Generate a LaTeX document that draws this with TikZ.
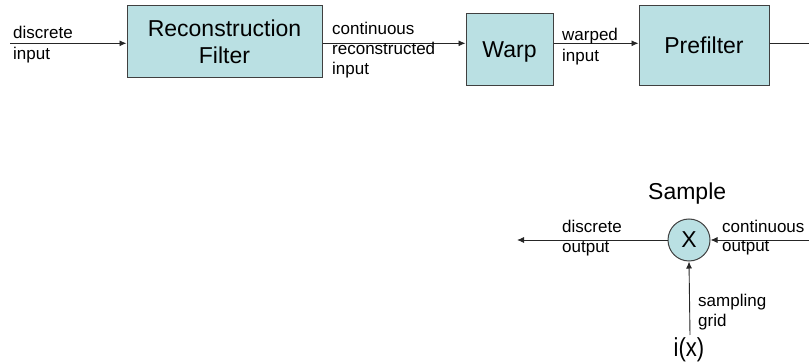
\documentclass[tikz,border=0pt]{standalone}
\usepackage{fontspec}
\setmainfont{Liberation Sans}
\usetikzlibrary{arrows.meta}
\definecolor{boxfill}{RGB}{186,224,227}
\definecolor{boxline}{RGB}{64,64,64}
\newcommand\smalllab{\fontsize{17}{19}\selectfont}
\newcommand\biglab{\fontsize{23}{27}\selectfont}
\tikzset{
  blockbox/.style={draw=boxline, fill=boxfill, line width=1pt, inner sep=0pt, align=center, font=\biglab},
  arr/.style={draw=black!85, line width=0.9pt, -{Latex[length=7pt,width=6pt]}},
  plain/.style={draw=black!85, line width=0.9pt},
  lab/.style={anchor=base west, inner sep=0pt, font=\smalllab},
}
\begin{document}
\begin{tikzpicture}[x=1pt,y=-1pt]
\useasboundingbox (0,0) rectangle (809,363);
% boxes
\node[blockbox, minimum width=195pt, minimum height=72pt] (recon) at (224.5,42) {Reconstruction\\Filter};
\node[blockbox, minimum width=87pt, minimum height=72pt, text height=16pt, text depth=0pt] (warp) at (509.5,50) {Warp};
\node[blockbox, minimum width=130pt, minimum height=80pt, text height=16pt, text depth=0pt] (pre) at (704,46) {Prefilter};
% coordinates
\coordinate (in) at (10,43.3);
\coordinate (outR) at (809,43.3);
% connectors top
\draw[arr] (in) -- (recon.west |- in);
\draw[arr] (recon.east |- in) -- (warp.west |- in);
\draw[arr] (warp.east |- in) -- (pre.west |- in);
\draw[plain] (pre.east |- in) -- (outR);
% labels top
\node[lab] (l1) at (13,38.3) {discrete};
\node[lab] (l2) at (13,60) {input};
\node[lab] (l3) at (332,35) {continuous};
\node[lab] (l4) at (332,55) {reconstructed};
\node[lab] (l5) at (332,75) {input};
\node[lab] (l6) at (562,40.7) {warped};
\node[lab] (l7) at (562,61.7) {input};
% sample
\node[anchor=base west, inner sep=0pt, font=\biglab] (samplelab) at (648,200) {Sample};
\node[circle, draw=boxline, fill=boxfill, line width=1pt, minimum size=42pt, inner sep=0pt, font=\fontsize{23}{26}\selectfont] (S) at (689,240) {X};
\coordinate (cin) at (809,240);
\coordinate (dout) at (517,240);
\coordinate (gridc) at (690,335);
\draw[arr] (cin) -- (S.east);
\draw[arr] (S.west) -- (dout);
\draw[arr] (gridc) -- (S.south);
\node[lab] (l8) at (562,233) {discrete};
\node[lab] (l9) at (562,253) {output};
\node[lab] (l10) at (722,233) {continuous};
\node[lab] (l11) at (722,252) {output};
\node[lab] (l12) at (698,307) {sampling};
\node[lab] (l13) at (698,327) {grid};
\node[anchor=base, inner sep=0pt, font=\fontsize{26}{30}\selectfont, xscale=0.85] (ix) at (689,357) {i(x)};
\end{tikzpicture}
\end{document}
